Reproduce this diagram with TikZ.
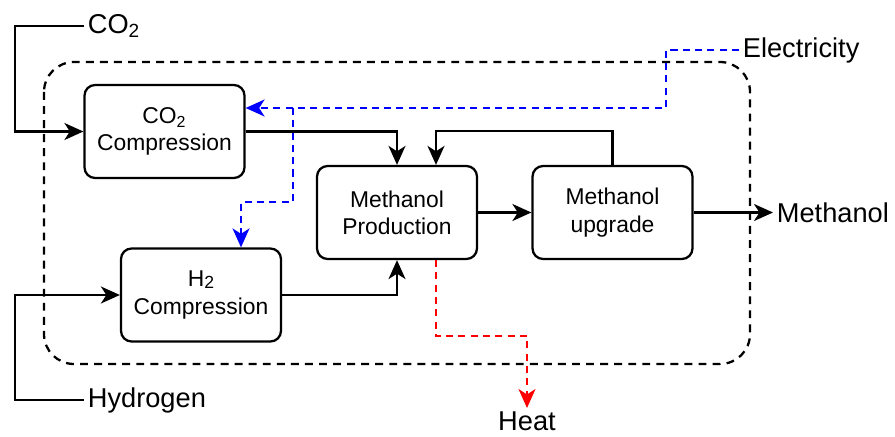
\documentclass[tikz,border=0pt]{standalone}
\usepackage{fontspec}
\setmainfont{Liberation Sans}
\usepackage{tikz}
\usetikzlibrary{arrows.meta, positioning, calc}
\definecolor{mydark}{RGB}{0,0,0}
\definecolor{myblue}{RGB}{0,0,255}
\definecolor{myred}{RGB}{255,0,0}
\tikzset{
  procbox/.style={rectangle, draw=mydark, fill=white,
    minimum width=3.2cm, minimum height=1.86cm, align=center,
    font=\fontsize{13}{15.5}\selectfont, rounded corners=6pt, line width=1.3pt},
  extlabel/.style={font=\fontsize{15.5}{18}\selectfont, inner sep=2pt},
  flow/.style={-{Stealth[length=0.38cm, width=0.34cm, inset=0.11cm]}, line width=1.3pt, color=mydark},
  line/.style={line width=1.3pt, color=mydark},
  elecarrow/.style={-{Stealth[length=0.38cm, width=0.34cm, inset=0.11cm]}, line width=1.1pt,
    color=myblue, dash pattern=on 4pt off 3pt},
  heatarrow/.style={-{Stealth[length=0.38cm, width=0.34cm, inset=0.11cm]}, line width=1.1pt,
    color=myred, dash pattern=on 4pt off 3pt},
  boundary/.style={line width=1.3pt, color=mydark, dash pattern=on 4.5pt off 3.5pt,
    rounded corners=0.6cm}
}
\begin{document}
\begin{tikzpicture}[x=0.02cm, y=-0.02cm]
  \useasboundingbox (0,0) rectangle (895,436);
  % System boundary
  \draw[boundary] (44,62) rectangle (750,364);

  % Process units
  \node[procbox] (co2c) at (164.5,131.5) {CO\textsubscript{2}\\Compression};
  \node[procbox] (h2c) at (201,295) {H\raisebox{-0.15ex}{\fontsize{10}{10}\selectfont 2}\\Compression};
  \node[procbox] (mp) at (397,212.5) {Methanol\\Production};
  \node[procbox] (mu) at (612.5,212.5) {Methanol\\upgrade};

  % Inputs and outputs
  \node[extlabel, anchor=west] (co2) at (84,26) {CO\textsubscript{2}};
  \node[extlabel, anchor=west] (h2) at (84,400) {Hydrogen};
  \node[extlabel, anchor=west] (elec) at (739,50) {Electricity};
  \node[extlabel, anchor=west] (meoh) at (773,213) {Methanol};
  \node[extlabel, anchor=north] (heat) at (527,408) {Heat};
  \coordinate (inl) at (15,0);

  % Feed lines
  \draw[flow] (co2.west) -| (inl |- co2c.west) -- (co2c.west);
  \draw[flow] (h2.west) -| (inl |- h2c.west) -- (h2c.west);

  % Main process flow
  \draw[flow] (co2c.east) -| (mp.north);
  \draw[flow] (h2c.east) -| (mp.south);
  \draw[flow] (mp) -- (mu);
  \draw[flow] (mu.east) -- (mu.east -| meoh.west);
  \coordinate (recyc) at ($(mp.north)+(39,0)$);
  \draw[flow] (mu.north) -- ++(0,-34) -| (recyc);

  % Electricity supply
  \coordinate (ej) at (666,108);
  \coordinate (eb) at (293,108);
  \coordinate (h2top) at ($(h2c.north)+(40,0)$);
  \draw[elecarrow] (elec.west) -| (ej) -- (co2c.east |- ej);
  \draw[elecarrow] (eb) -- ++(0,94) -| (h2top);

  % Heat release
  \coordinate (hx) at ($(mp.south)+(39,0)$);
  \draw[heatarrow] (hx) -- ++(0,76) -| (heat.north);
\end{tikzpicture}
\end{document}
